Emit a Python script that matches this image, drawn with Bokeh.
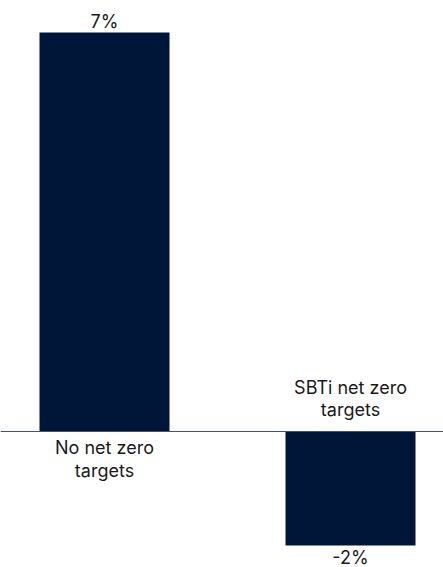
from bokeh.plotting import figure
from bokeh.models import ColumnDataSource, Range1d, Span
from bokeh.core.properties import value
from bokeh.embed import file_html
from bokeh.resources import INLINE

# ---- data ----
categories = ["No net zero\ntargets", "SBTi net zero\ntargets"]
values = [7, -2]
value_labels = ["7%", "-2%"]

BAR_COLOR = "#001639"
TEXT_COLOR = "#1a1a1a"
FONT = "Inter"

xs = list(range(len(categories)))
# category label goes on the opposite side of the axis from the bar
cat_baseline = ["top" if v >= 0 else "bottom" for v in values]
cat_offset = [6 if v >= 0 else -11 for v in values]
val_offset = [-10.5 if v >= 0 else 12.5 for v in values]

src = ColumnDataSource(dict(
    x=xs, v=values, zero=[0] * len(values), cat=categories, lab=value_labels,
    cb=cat_baseline, co=cat_offset, vo=val_offset,
))

p = figure(width=443, height=567, output_backend="svg", toolbar_location=None,
           x_range=Range1d(-0.4228, 1.378), y_range=Range1d(-2.386, 7.5614),
           min_border=0, min_border_left=0, min_border_right=0,
           min_border_top=0, min_border_bottom=0)
p.xaxis.visible = False
p.yaxis.visible = False
p.xgrid.visible = False
p.ygrid.visible = False
p.outline_line_color = None
p.background_fill_color = "white"
p.border_fill_color = "white"

p.vbar(x="x", top="v", bottom="zero", width=0.5285, source=src,
       fill_color=BAR_COLOR, line_color=None)

p.add_layout(Span(location=0, dimension="width", line_color="#44546a", line_width=1.2))

p.text(x="x", y="v", text="lab", source=src, text_align="center",
       text_baseline="alphabetic", y_offset="vo",
       text_font=value(FONT), text_font_size="18px", text_color=TEXT_COLOR)

p.text(x="x", y="zero", text="cat", source=src, text_align="center",
       text_baseline="cb", y_offset="co", text_line_height=1.05,
       text_font=value(FONT), text_font_size="18px", text_color=TEXT_COLOR)

open("out.html", "w").write(file_html(p, INLINE))
